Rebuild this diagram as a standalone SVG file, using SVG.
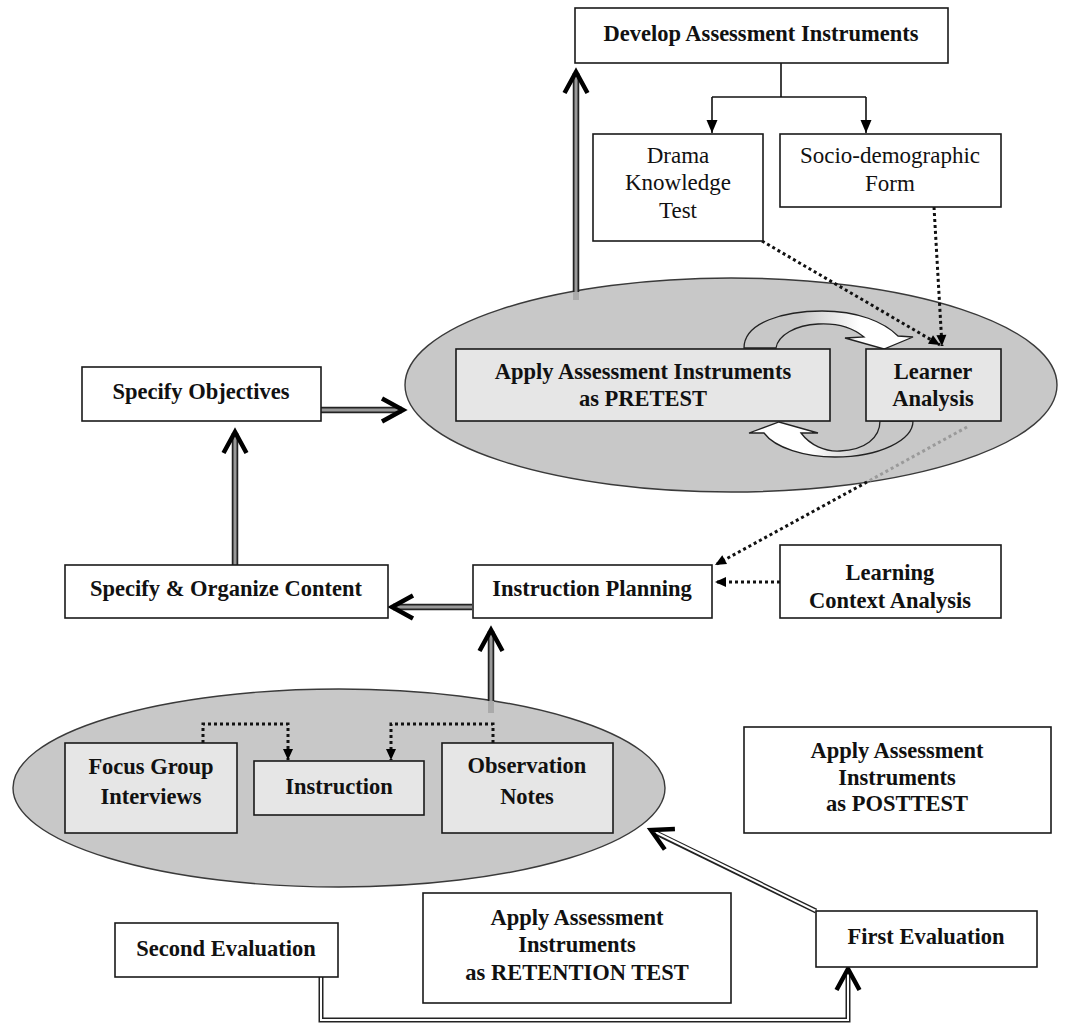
<svg xmlns="http://www.w3.org/2000/svg" width="1073" height="1026" viewBox="0 0 1073 1026">
<style>
.box{fill:#fff;stroke:#1a1a1a;stroke-width:1.6}
.ibox{fill:#e6e6e6;stroke:#1a1a1a;stroke-width:1.6}
.ell{fill:#c8c8c8;stroke:#3a3a3a;stroke-width:1.4}
.b{font-family:"Liberation Serif","Times New Roman",serif;font-weight:bold;font-size:22.5px;fill:#111;text-anchor:middle}
.r{font-family:"Liberation Serif","Times New Roman",serif;font-size:23px;fill:#111;text-anchor:middle}
.dot{fill:none;stroke:#111;stroke-width:3;stroke-dasharray:3 3}
.dotg{fill:none;stroke:#9a9a9a;stroke-width:3;stroke-dasharray:3 3}
.sol{fill:none;stroke:#111;stroke-width:1.6}
.so{fill:none;stroke:#222;stroke-width:6.5}
.si{fill:none;stroke:#999;stroke-width:3}
.wo{fill:none;stroke:#222;stroke-width:5}
.wi{fill:none;stroke:#fff;stroke-width:2}
.carrow{stroke:#222;stroke-width:1.3}
</style>
<defs>
<marker id="chev" markerUnits="userSpaceOnUse" orient="auto" markerWidth="60" markerHeight="60" refX="0" refY="0" viewBox="-30 -30 60 60" overflow="visible">
<path d="M-21,-11.5 L0,0 L-21,11.5" fill="none" stroke="#000" stroke-width="4.5"/>
</marker>
<marker id="tri" markerUnits="userSpaceOnUse" orient="auto" markerWidth="30" markerHeight="30" refX="0" refY="0" viewBox="-15 -15 30 30" overflow="visible">
<path d="M0,0 L-13,-5.5 L-13,5.5 Z" fill="#000" stroke="none"/>
</marker>
<marker id="dtri" markerUnits="userSpaceOnUse" orient="auto" markerWidth="30" markerHeight="30" refX="0" refY="0" viewBox="-15 -15 30 30" overflow="visible">
<path d="M0,0 L-11,-5 L-11,5 Z" fill="#000" stroke="none"/>
</marker>
<linearGradient id="gT" gradientUnits="userSpaceOnUse" x1="800" y1="0" x2="860" y2="0">
<stop offset="0" stop-color="#c8c8c8"/><stop offset="1" stop-color="#fff"/>
</linearGradient>
<linearGradient id="gB" gradientUnits="userSpaceOnUse" x1="865" y1="0" x2="810" y2="0">
<stop offset="0" stop-color="#c8c8c8"/><stop offset="1" stop-color="#fff"/>
</linearGradient>
</defs>
<rect width="1073" height="1026" fill="#fff"/>

<g id="pretest-group">
<ellipse class="ell" cx="731" cy="385" rx="326" ry="107"/>
</g>
<g id="instruction-group">
<ellipse class="ell" cx="339" cy="788" rx="326" ry="99"/>
</g>

<g id="cycle-arrows">
<path class="carrow" fill="url(#gT)" d="M744 348 C744 322 785 311 822 311 C858 311 884 322 898 336 L913 337 L884 349 L845 338 L864 337 C852 327 836 323 818 324 C796 325 778 335 776 348 Z"/>
<path class="carrow" fill="url(#gB)" d="M913 421 C913 440 880 457 835 457 C805 457 775 448 764 433 L749 433 L779 422 L818 433 L801 433 C810 445 825 452 840 451 C865 450 880 438 880 421 Z"/>
</g>

<g id="connectors">
<path class="sol" d="M781 63 L781 97"/>
<path class="sol" d="M712 97 L866 97"/>
<path class="sol" d="M712 97 L712 133" marker-end="url(#tri)"/>
<path class="sol" d="M866 97 L866 133" marker-end="url(#tri)"/>

<path class="dot" d="M762 241 L940 345" marker-end="url(#dtri)"/>
<path class="dot" d="M934 207 L942 346" marker-end="url(#dtri)"/>
<path class="dotg" d="M967 427 L867 482"/>
<path class="dot" d="M867 482 L715 565" marker-end="url(#dtri)"/>
<path class="dot" d="M780 582 L715 582" marker-end="url(#dtri)"/>
<path class="dot" d="M203 743 L203 724 L288 724 L288 760" marker-end="url(#dtri)"/>
<path class="dot" d="M493 743 L493 724 L391 724 L391 760" marker-end="url(#dtri)"/>

<line x1="576" y1="300" x2="576" y2="291" stroke="#aaa" stroke-width="6"/>
<path class="so" d="M576 292 L576 73"/>
<path class="si" d="M576 292 L576 72" marker-end="url(#chev)"/>

<path class="so" d="M321 410 L402 410"/>
<path class="si" d="M321 410 L403 410" marker-end="url(#chev)"/>

<path class="so" d="M235 565 L235 433"/>
<path class="si" d="M235 565 L235 432" marker-end="url(#chev)"/>

<path class="so" d="M472 607 L393 607"/>
<path class="si" d="M472 607 L392 607" marker-end="url(#chev)"/>

<line x1="491" y1="713" x2="491" y2="700" stroke="#aaa" stroke-width="6"/>
<path class="so" d="M491 701 L491 631"/>
<path class="si" d="M491 701 L491 630" marker-end="url(#chev)"/>

<path class="wo" d="M816 911 L652 831"/>
<path class="wi" d="M816 911 L651 830" marker-end="url(#chev)"/>

<path class="wo" d="M321 977 L321 1020 L848 1020 L848 971"/>
<path class="wi" d="M321 977 L321 1020 L848 1020 L848 969" marker-end="url(#chev)"/>
</g>

<g id="develop">
<rect class="box" x="575" y="8" width="373" height="55"/>
<text class="b" x="761" y="41">Develop Assessment Instruments</text>
</g>
<g id="drama">
<rect class="box" x="593" y="134" width="170" height="107"/>
<text class="r" x="678" y="163">Drama</text>
<text class="r" x="678" y="190">Knowledge</text>
<text class="r" x="678" y="218">Test</text>
</g>
<g id="socio">
<rect class="box" x="780" y="134" width="221" height="73"/>
<text class="r" x="890" y="163">Socio-demographic</text>
<text class="r" x="890" y="191">Form</text>
</g>
<g id="pretest">
<rect class="ibox" x="456" y="349" width="374" height="72"/>
<text class="b" x="643" y="379">Apply Assessment Instruments</text>
<text class="b" x="643" y="406">as PRETEST</text>
</g>
<g id="learner">
<rect class="ibox" x="866" y="349" width="135" height="72"/>
<text class="b" x="933" y="379">Learner</text>
<text class="b" x="933" y="406">Analysis</text>
</g>
<g id="objectives">
<rect class="box" x="82" y="367" width="239" height="54"/>
<text class="b" x="201" y="399">Specify Objectives</text>
</g>
<g id="content">
<rect class="box" x="65" y="565" width="323" height="53"/>
<text class="b" x="226" y="596">Specify &amp; Organize Content</text>
</g>
<g id="planning">
<rect class="box" x="473" y="565" width="239" height="53"/>
<text class="b" x="592" y="596">Instruction Planning</text>
</g>
<g id="context">
<rect class="box" x="780" y="545" width="221" height="73"/>
<text class="b" x="890" y="580">Learning</text>
<text class="b" x="890" y="608">Context Analysis</text>
</g>
<g id="focus">
<rect class="ibox" x="65" y="743" width="172" height="90"/>
<text class="b" x="151" y="774">Focus Group</text>
<text class="b" x="151" y="804">Interviews</text>
</g>
<g id="instruction">
<rect class="ibox" x="254" y="761" width="170" height="54"/>
<text class="b" x="339" y="794">Instruction</text>
</g>
<g id="observation">
<rect class="ibox" x="442" y="743" width="171" height="90"/>
<text class="b" x="527" y="773">Observation</text>
<text class="b" x="527" y="804">Notes</text>
</g>
<g id="posttest">
<rect class="box" x="744" y="727" width="307" height="106"/>
<text class="b" x="897" y="758">Apply Assessment</text>
<text class="b" x="897" y="785">Instruments</text>
<text class="b" x="897" y="811">as POSTTEST</text>
</g>
<g id="retention">
<rect class="box" x="423" y="893" width="308" height="110"/>
<text class="b" x="577" y="925">Apply Assessment</text>
<text class="b" x="577" y="952">Instruments</text>
<text class="b" x="577" y="980">as RETENTION TEST</text>
</g>
<g id="first-eval">
<rect class="box" x="816" y="911" width="221" height="56"/>
<text class="b" x="926" y="944">First Evaluation</text>
</g>
<g id="second-eval">
<rect class="box" x="115" y="923" width="223" height="54"/>
<text class="b" x="226" y="956">Second Evaluation</text>
</g>
</svg>
